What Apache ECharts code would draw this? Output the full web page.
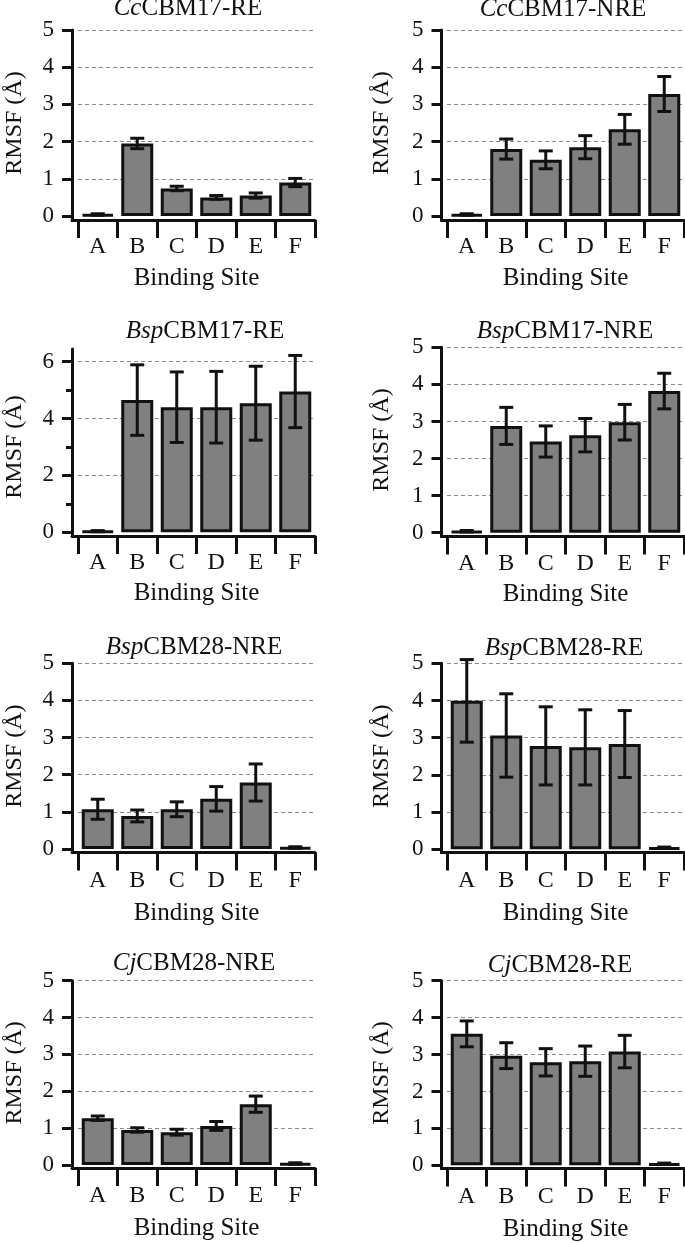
<!DOCTYPE html>
<html><head><meta charset="utf-8">
<script src="https://cdn.jsdelivr.net/npm/echarts@6/dist/echarts.min.js"></script>
<style>html,body{margin:0;padding:0;background:#fff}#c{width:685px;height:1243px}</style>
</head><body><div id="c"></div>
<script>
const categories = ['A','B','C','D','E','F'];
const ccRE = [0.04,1.95,0.74,0.50,0.55,0.90];
const ccREErr = [0.02,0.14,0.06,0.05,0.07,0.11];
const ccNRE = [0.04,1.80,1.51,1.85,2.33,3.28];
const ccNREErr = [0.02,0.27,0.24,0.31,0.40,0.47];
const bsp17RE = [0.04,4.65,4.40,4.40,4.54,4.95];
const bsp17REErr = [0.02,1.24,1.24,1.26,1.30,1.27];
const bsp17NRE = [0.04,2.88,2.46,2.63,2.98,3.82];
const bsp17NREErr = [0.02,0.50,0.42,0.45,0.48,0.48];
const bsp28NRE = [1.07,0.89,1.07,1.35,1.79,0.04];
const bsp28NREErr = [0.27,0.16,0.20,0.33,0.50,0.02];
const bsp28RE = [3.99,3.06,2.78,2.74,2.83,0.04];
const bsp28REErr = [1.11,1.12,1.05,1.01,0.90,0.02];
const cj28NRE = [1.27,0.95,0.89,1.06,1.65,0.04];
const cj28NREErr = [0.06,0.06,0.08,0.12,0.22,0.02];
const cj28RE = [3.56,2.97,2.79,2.82,3.08,0.04];
const cj28REErr = [0.35,0.35,0.37,0.41,0.44,0.02];
const titles = [['Cc','CBM17-RE'],['Cc','CBM17-NRE'],['Bsp','CBM17-RE'],['Bsp','CBM17-NRE'],
                ['Bsp','CBM28-NRE'],['Bsp','CBM28-RE'],['Cj','CBM28-NRE'],['Cj','CBM28-RE']];
const xName = 'Binding Site';
const yName = 'RMSF (Å)';

const FONT = 'Liberation Serif';
const INK = '#111';
const GRIDC = '#8a8a8a';
const LW = 3;

// layout per panel (pixels)
const layout = [
  {left:78,  top:30,    h:186,   axisX:72,    xLine:220,    fTop:30,    tX:188, tY:8,     yMax:5, yInt:1, nGap:45,   xGap:46, lMar:15},
  {left:447, top:30,    h:186,   axisX:441.5, xLine:220,    fTop:30,    tX:563, tY:9,     yMax:5, yInt:1, nGap:48,   xGap:46, lMar:15},
  {left:78,  top:361.7, h:170.6, axisX:72,    xLine:536,    fTop:349,   tX:205, tY:331.7, yMax:6, yInt:2, nGap:45,   xGap:45, lMar:15, minor:true},
  {left:447, top:347.3, h:185.4, axisX:441.5, xLine:536.5,  fTop:347.3, tX:565, tY:331.7, yMax:5, yInt:1, nGap:48,   xGap:45, lMar:15},
  {left:78,  top:663.3, h:185.7, axisX:72,    xLine:852.5,  fTop:663.3, tX:194, tY:647.5, yMax:5, yInt:1, nGap:45,   xGap:48, lMar:16},
  {left:447, top:663.3, h:186,   axisX:441.5, xLine:852.5,  fTop:663.3, tX:564, tY:648,   yMax:5, yInt:1, nGap:48,   xGap:48, lMar:16},
  {left:78,  top:980.7, h:184.3, axisX:72,    xLine:1168,   fTop:980.7, tX:194, tY:963,   yMax:5, yInt:1, nGap:45,   xGap:48, lMar:16},
  {left:447, top:980.7, h:184.6, axisX:441.5, xLine:1168.5, fTop:980.7, tX:560, tY:965,   yMax:5, yInt:1, nGap:48,   xGap:48, lMar:16}
];
const W = 237;
const values = [ccRE, ccNRE, bsp17RE, bsp17NRE, bsp28NRE, bsp28RE, cj28NRE, cj28RE];
const errors = [ccREErr, ccNREErr, bsp17REErr, bsp17NREErr, bsp28NREErr, bsp28REErr, cj28NREErr, cj28REErr];

const grid = [], xAxis = [], yAxis = [], series = [], graphic = [];
layout.forEach((p, k) => {
  const g = grid.length;
  const nLines = Math.round(p.yMax / p.yInt) + 1;
  const splitColors = ['rgba(0,0,0,0)'].concat(new Array(nLines - 1).fill(GRIDC));
  grid.push({left:p.left, top:p.top, width:W, height:p.h, containLabel:false});
  xAxis.push({
    type:'category', gridIndex:g, data:categories, offset:p.xLine - (p.top + p.h),
    axisLine:{show:false, onZero:false},
    axisTick:{show:true, length:18, lineStyle:{color:INK, width:LW}},
    axisLabel:{margin:p.lMar, fontSize:24, fontFamily:FONT, color:INK},
    name:xName, nameLocation:'middle', nameGap:p.xGap,
    nameTextStyle:{fontSize:25, fontFamily:FONT, color:INK}
  });
  yAxis.push({
    type:'value', gridIndex:g, min:0, max:p.yMax, interval:p.yInt, offset:p.left - p.axisX,
    axisLine:{show:false},
    axisTick:{show:true, length:10, lineStyle:{color:INK, width:LW}},
    minorTick:{show:!!p.minor, splitNumber:2, length:6, lineStyle:{color:INK, width:LW}},
    axisLabel:{margin:18, fontSize:23, fontFamily:FONT, color:INK},
    splitLine:{show:true, lineStyle:{type:[4,3], color:splitColors, width:1}},
    name:yName, nameLocation:'middle', nameGap:p.nGap,
    nameTextStyle:{fontSize:24, fontFamily:FONT, color:INK}
  });
  series.push({
    type:'bar', xAxisIndex:g, yAxisIndex:g, data:values[k], barWidth:32,
    itemStyle:{color:'#808080', borderColor:INK, borderWidth:LW}, z:2
  });
  series.push({
    type:'custom', xAxisIndex:g, yAxisIndex:g, z:3,
    data:categories.map((c, i) => [i, values[k][i], errors[k][i]]),
    encode:{x:0, y:1},
    renderItem:(params, api) => {
      const i = api.value(0), v = api.value(1), e = api.value(2);
      const hi = api.coord([i, v + e]), lo = api.coord([i, v - e]);
      const w = 7, st = {stroke:INK, lineWidth:LW};
      return {type:'group', children:[
        {type:'line', shape:{x1:hi[0], y1:hi[1], x2:lo[0], y2:lo[1]}, style:st},
        {type:'line', shape:{x1:hi[0]-w, y1:hi[1], x2:hi[0]+w, y2:hi[1]}, style:st},
        {type:'line', shape:{x1:lo[0]-w, y1:lo[1], x2:lo[0]+w, y2:lo[1]}, style:st}
      ]};
    }
  });
  // frame grid (axis lines)
  const f = grid.length;
  grid.push({left:p.axisX, top:p.fTop, width:(p.left + W) - p.axisX, height:p.xLine - p.fTop});
  const lineOnly = {
    type:'value', gridIndex:f, min:0, max:1,
    axisLine:{show:true, onZero:false, lineStyle:{color:INK, width:LW}},
    axisTick:{show:false}, axisLabel:{show:false}, splitLine:{show:false}
  };
  xAxis.push(Object.assign({}, lineOnly));
  yAxis.push(Object.assign({}, lineOnly));
  graphic.push({
    type:'text', x:p.tX, y:p.tY, z:10,
    style:{
      text:'{i|' + titles[k][0] + '}{n|' + titles[k][1] + '}',
      textAlign:'center', textVerticalAlign:'middle', align:'center', verticalAlign:'middle',
      rich:{
        i:{fontStyle:'italic', fontFamily:FONT, fontSize:25, fill:INK},
        n:{fontFamily:FONT, fontSize:25, fill:INK}
      }
    }
  });
});

const chart = echarts.init(document.getElementById('c'), null, {renderer:'canvas'});
chart.setOption({
  animation:false,
  backgroundColor:'#fff',
  grid, xAxis, yAxis, series, graphic
});
</script>
</body></html>
